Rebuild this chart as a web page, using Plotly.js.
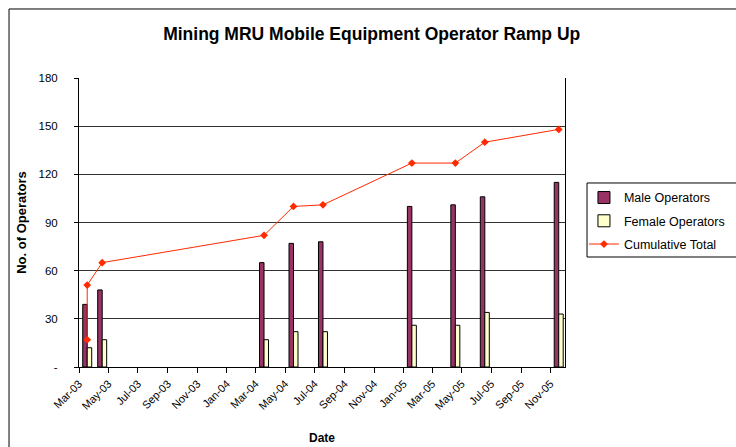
<!DOCTYPE html>
<html>
<head>
<meta charset="utf-8">
<script src="https://cdn.plot.ly/plotly-3.0.1.min.js"></script>
<style>
html,body{margin:0;padding:0;background:#fff;}
#chart{width:736px;height:447px;}
</style>
</head>
<body>
<div id="chart"></div>
<script>
// Data
var barDates = ['2003-03-18','2003-04-18','2004-03-18','2004-05-18','2004-07-18','2005-01-18','2005-04-18','2005-06-18','2005-11-18'];
var maleOperators = [39, 48, 65, 77, 78, 100, 101, 106, 115];
var femaleOperators = [12, 17, 17, 22, 22, 26, 26, 34, 33];
var totalDates = ['2003-03-18','2003-03-18','2003-04-18','2004-03-18','2004-05-18','2004-07-18','2005-01-18','2005-04-18','2005-06-18','2005-11-18'];
var cumulativeTotal = [17, 51, 65, 82, 100, 101, 127, 127, 140, 148];
var yTickVals = [0, 30, 60, 90, 120, 150, 180];
var yTickText = ['-', '30', '60', '90', '120', '150', '180'];

var font = 'Arial, "Liberation Sans", sans-serif';

var traces = [
  {
    type: 'bar', name: 'Male Operators', x: barDates, y: maleOperators,
    marker: {color: '#993366', line: {color: '#000000', width: 1}},
    legendgroup: 'a'
  },
  {
    type: 'bar', name: 'Female Operators', x: barDates, y: femaleOperators,
    marker: {color: '#FFFFCC', line: {color: '#000000', width: 1}},
    legendgroup: 'b'
  },
  {
    type: 'scatter', mode: 'lines+markers', name: 'Cumulative Total',
    x: totalDates, y: cumulativeTotal,
    line: {color: '#FF2A00', width: 1},
    marker: {symbol: 'diamond', size: 6, color: '#FF2A00'},
    legendgroup: 'c'
  }
];

var layout = {
  width: 736, height: 447,
  margin: {l: 79, r: 171, t: 78, b: 80, autoexpand: false},
  paper_bgcolor: '#ffffff', plot_bgcolor: '#ffffff',
  font: {family: font, size: 11, color: '#000000'},
  title: {
    text: '<b>Mining MRU Mobile Equipment Operator Ramp Up</b>',
    font: {family: font, size: 17.5, color: '#000000'},
    x: 0.505, xref: 'container', xanchor: 'center',
    y: 0.925, yref: 'container', yanchor: 'middle'
  },
  barmode: 'group', bargap: 0.4, bargroupgap: 0,
  showlegend: true,
  legend: {
    x: 1.039, xanchor: 'left', y: 0.637, yanchor: 'top',
    borderwidth: 0, bgcolor: 'rgba(0,0,0,0)',
    font: {family: font, size: 12.5, color: '#000000'},
    traceorder: 'grouped', tracegroupgap: 4
  },
  xaxis: {
    type: 'date',
    range: ['2003-03-01', '2005-12-01'],
    tick0: '2003-03-01', dtick: 'M2', tickformat: '%b-%y',
    tickangle: -45,
    ticks: 'outside', ticklen: 5, tickcolor: '#000000',
    showline: true, linecolor: '#000000', linewidth: 1,
    showgrid: false, zeroline: false,
    tickfont: {family: font, size: 11, color: '#000000'},
    title: {text: '<b>Date</b>', font: {family: font, size: 12, color: '#000000'}, standoff: 22}
  },
  yaxis: {
    range: [0, 180],
    tickmode: 'array', tickvals: yTickVals, ticktext: yTickText,
    ticks: 'outside', ticklen: 4, tickcolor: '#000000',
    ticklabelstandoff: 14,
    showline: true, linecolor: '#000000', linewidth: 1, mirror: true,
    showgrid: true, gridcolor: '#333333', gridwidth: 1,
    zeroline: false,
    tickfont: {family: font, size: 11.5, color: '#000000'},
    title: {text: '<b>No. of Operators</b>', font: {family: font, size: 13, color: '#000000'}, standoff: 8}
  },
  shapes: [
    {type: 'rect', xref: 'paper', yref: 'paper',
     x0: -0.144, x1: 1.6, y0: -0.6, y1: 1.2388,
     line: {color: '#000000', width: 1}, fillcolor: 'rgba(0,0,0,0)', layer: 'above'},
    {type: 'rect', xref: 'paper', yref: 'paper',
     x0: 1.0453, x1: 1.4, y0: 0.3806, y1: 0.6367,
     line: {color: '#000000', width: 1}, fillcolor: 'rgba(0,0,0,0)', layer: 'above'}
  ]
};

Plotly.newPlot('chart', traces, layout, {displayModeBar: false, staticPlot: true});
</script>
</body>
</html>
